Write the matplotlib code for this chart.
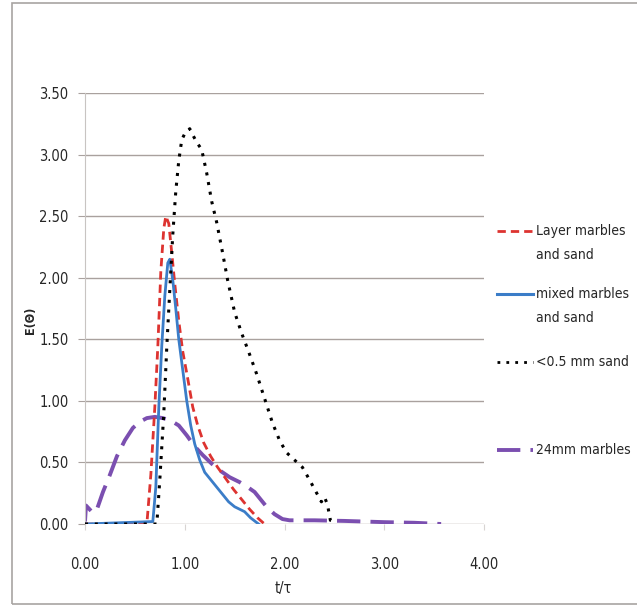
import matplotlib
matplotlib.use("Agg")
import matplotlib.pyplot as plt
from matplotlib.lines import Line2D
from matplotlib.patches import Rectangle

plt.rcParams['font.family'] = ['DejaVu Sans']
plt.rcParams['font.stretch'] = 'condensed'

# ---- data ----
x_layer = [0, 0.62, 0.66, 0.70, 0.73, 0.76, 0.79, 0.81, 0.84, 0.87, 0.90, 0.94, 0.98, 1.03,
           1.08, 1.13, 1.19, 1.26, 1.33, 1.41, 1.49, 1.57, 1.65, 1.73, 1.80]
y_layer = [0, 0, 0.40, 0.95, 1.44, 2.05, 2.40, 2.50, 2.44, 2.20, 1.95, 1.65, 1.40, 1.18,
           0.95, 0.80, 0.66, 0.55, 0.46, 0.37, 0.28, 0.20, 0.12, 0.05, 0.0]

x_mixed = [0, 0.68, 0.71, 0.74, 0.77, 0.80, 0.83, 0.85, 0.88, 0.91, 0.94, 0.98, 1.02, 1.06,
           1.10, 1.15, 1.20, 1.26, 1.32, 1.38, 1.44, 1.50, 1.55, 1.60, 1.66, 1.74]
y_mixed = [0, 0.02, 0.30, 0.95, 1.45, 1.85, 2.12, 2.15, 1.98, 1.75, 1.50, 1.25, 1.00, 0.80,
           0.65, 0.52, 0.42, 0.36, 0.30, 0.24, 0.18, 0.14, 0.12, 0.10, 0.05, 0.0]

x_sand = [0, 0.72, 0.75, 0.79, 0.82, 0.85, 0.88, 0.91, 0.94, 0.97, 1.00, 1.05, 1.08, 1.12,
          1.17, 1.22, 1.27, 1.32, 1.38, 1.43, 1.50, 1.57, 1.64, 1.72, 1.80, 1.88, 1.95,
          2.02, 2.10, 2.18, 2.25, 2.31, 2.37, 2.40, 2.43, 2.46, 2.50]
y_sand = [0, 0, 0.36, 0.90, 1.44, 1.90, 2.35, 2.70, 2.95, 3.12, 3.17, 3.21, 3.16, 3.10,
          3.04, 2.85, 2.62, 2.45, 2.20, 1.98, 1.72, 1.55, 1.40, 1.22, 1.02, 0.82, 0.68,
          0.58, 0.52, 0.46, 0.36, 0.27, 0.18, 0.22, 0.16, 0.03, 0.02]

x_marb = [0, 0.01, 0.08, 0.12, 0.18, 0.25, 0.32, 0.40, 0.48, 0.55, 0.62, 0.70, 0.78, 0.86,
          0.94, 1.02, 1.10, 1.18, 1.27, 1.36, 1.45, 1.55, 1.63, 1.70, 1.76, 1.82, 1.90,
          1.98, 2.05, 2.30, 2.60, 3.00, 3.30, 3.57]
y_marb = [0.02, 0.15, 0.09, 0.12, 0.26, 0.40, 0.55, 0.68, 0.78, 0.83, 0.86, 0.87, 0.86, 0.84,
          0.80, 0.72, 0.63, 0.56, 0.49, 0.43, 0.38, 0.34, 0.30, 0.26, 0.20, 0.14, 0.08,
          0.04, 0.03, 0.03, 0.025, 0.015, 0.01, 0.0]

labels = ["Layer marbles\nand sand", "mixed marbles\nand sand", "<0.5 mm sand", "24mm marbles"]
x_ticks = [0, 1, 2, 3, 4]
y_ticks = [0, 0.5, 1.0, 1.5, 2.0, 2.5, 3.0, 3.5]

# ---- figure ----
W, H = 637, 607
fig = plt.figure(figsize=(W / 100, H / 100), dpi=100)
fig.patches.append(Rectangle((12 / W, 3 / H), 1.2, (601) / H, transform=fig.transFigure,
                             fill=False, edgecolor='#a8a4a2', lw=1.2))

ax = fig.add_axes([85 / W, (H - 524) / H, (484 - 85) / W, (524 - 93) / H])
ax.set_xlim(0, 4)
ax.set_ylim(0, 3.5)
grid_c = '#a9a19e'
txt_c = '#262626'
ax.set_yticks(y_ticks)
ax.set_yticklabels([f"{v:.2f}" for v in y_ticks])
ax.set_xticks(x_ticks)
ax.set_xticklabels([f"{v:.2f}" for v in x_ticks])
for v in y_ticks:
    ax.axhline(v, color=grid_c, lw=1.0, zorder=0)
for s in ['top', 'right', 'bottom']:
    ax.spines[s].set_visible(False)
ax.spines['left'].set_color('#c8c4c2')
ax.tick_params(axis='y', length=5, color=grid_c, pad=7, labelsize=10.5, labelcolor=txt_c)
ax.tick_params(axis='x', length=4, color='#d8d4d2', pad=20, labelsize=10.5, labelcolor=txt_c)

c_red = '#dd3330'
c_blue = '#3b7dc8'
c_purple = '#7b4fb0'

ax.plot(x_marb, y_marb, color=c_purple, lw=2.8, ls=(0, (6, 2.6)), solid_capstyle='butt',
        dash_capstyle='butt', zorder=2)
ax.plot(x_layer, y_layer, color=c_red, lw=2.0, ls=(0, (3, 1.8)), zorder=3)
ax.plot(x_mixed, y_mixed, color=c_blue, lw=2.0, zorder=4)
ax.plot(x_sand, y_sand, color='black', lw=2.2, ls=(0, (1, 2.2)), zorder=5)

# axis labels
fig.text(30 / W, 1 - 320 / H, "E(Θ)", rotation=90, ha='center', va='center',
         fontsize=9, fontweight='bold', color=txt_c)
fig.text(283 / W, 1 - 588 / H, "t/τ", ha='center', va='center', fontsize=10.5, color=txt_c)

# legend drawn manually
styles = [dict(color=c_red, lw=2.0, ls=(0, (3, 1.8))),
          dict(color=c_blue, lw=2.2),
          dict(color='black', lw=2.0, ls=(0, (1, 2.2))),
          dict(color=c_purple, lw=2.8, ls=(0, (6, 2.6)))]
ys = [231, 294, 362, 450]
for lab, st, yy in zip(labels, styles, ys):
    fy = 1 - yy / H
    fig.add_artist(Line2D([497 / W, 533 / W], [fy, fy], transform=fig.transFigure, **st))
    fig.text(536 / W, fy + 7 / H, lab, ha='left', va='top', fontsize=10,
             color=txt_c, linespacing=1.9)

fig.savefig("out.png", dpi=100)
